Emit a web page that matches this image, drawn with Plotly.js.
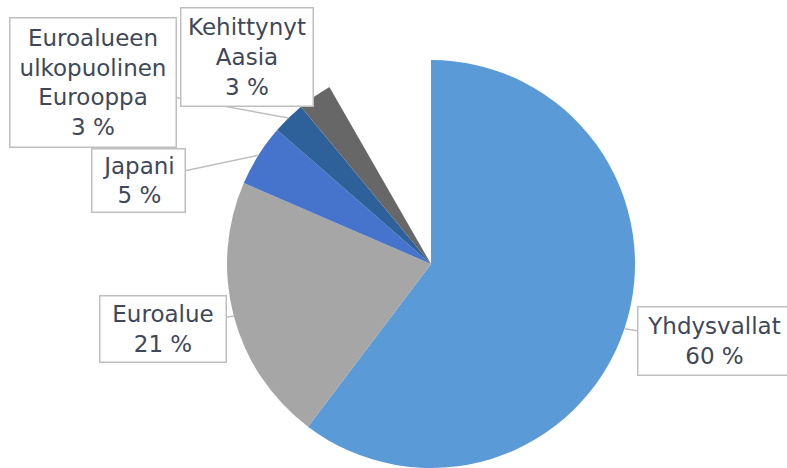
<!DOCTYPE html>
<html>
<head>
<meta charset="utf-8">
<script src="https://cdn.plot.ly/plotly-3.0.1.min.js"></script>
<style>html,body{margin:0;padding:0;background:#fff;}#chart{width:787px;height:468px;}</style>
</head>
<body>
<div id="chart"></div>
<script>
// ---- data ----
var categories = ['Yhdysvallat', 'Euroalue', 'Japani', 'Euroalueen ulkopuolinen Eurooppa', 'Kehittynyt Aasia', 'Muut'];
var shares = [60.3, 21.2, 4.9, 2.6, 2.7, 8.3];
var labelLines = ['Yhdysvallat', 'Euroalue', 'Japani', 'Euroalueen<br>ulkopuolinen<br>Eurooppa', 'Kehittynyt<br>Aasia'];
var pctLabels = ['60 %', '21 %', '5 %', '3 %', '3 %'];

// ---- styling / layout config ----
var W = 787, H = 468;
var sliceColors = ['#5A9AD7', '#A6A6A6', '#4673CB', '#2E6199', '#676767', 'rgba(0,0,0,0)'];
var domX = [227 / W, 635 / W], domY = [0, 408 / H];
// label boxes: centre (px), size (px); anchor: 'mid' or 'start' of slice
var boxes = [
  {cx: 714, cy: 341, w: 154, h: 70, anchor: 'mid'},
  {cx: 163, cy: 329, w: 128, h: 68, anchor: 'mid'},
  {cx: 138.5, cy: 180.5, w: 95, h: 65, anchor: 'mid'},
  {cx: 93, cy: 82.5, w: 168, h: 131, anchor: 'mid'},
  {cx: 247, cy: 57, w: 134, h: 100, anchor: 'start'}
];
var txtColor = '#3E4859', lineColor = '#BFBFBF';

var total = shares.reduce(function (a, b) { return a + b; }, 0);
var pcx = (domX[0] + domX[1]) / 2 * W, pcy = (1 - (domY[0] + domY[1]) / 2) * H;
var R = Math.min((domX[1] - domX[0]) * W, (domY[1] - domY[0]) * H) / 2;

var annotations = [];
var cum = 0;
for (var i = 0; i < shares.length; i++) {
  var start = cum / total, mid = (cum + shares[i] / 2) / total;
  cum += shares[i];
  if (i >= boxes.length) continue;
  var b = boxes[i];
  var frac = b.anchor === 'start' ? start : mid;
  var ang = frac * 2 * Math.PI;
  var tx = pcx + R * Math.sin(ang), ty = pcy - R * Math.cos(ang);
  annotations.push({
    xref: 'paper', yref: 'paper', x: tx / W, y: 1 - ty / H,
    ax: b.cx - tx, ay: b.cy - ty,
    showarrow: true, arrowhead: 0, arrowwidth: 1.5, arrowcolor: lineColor, standoff: 0,
    text: labelLines[i] + '<br>' + pctLabels[i],
    font: {family: 'DejaVu Sans, Arial, sans-serif', size: 23, color: txtColor},
    align: 'center', valign: 'middle',
    bgcolor: '#FFFFFF', bordercolor: lineColor, borderwidth: 1.5, borderpad: 0,
    width: b.w - 3, height: b.h - 3
  });
}

var trace = {
  type: 'pie',
  labels: categories,
  values: shares,
  sort: false,
  direction: 'clockwise',
  rotation: 0,
  textinfo: 'none',
  hoverinfo: 'skip',
  marker: {colors: sliceColors, line: {width: 0}},
  domain: {x: domX, y: domY},
  showlegend: false
};

var layout = {
  width: W, height: H,
  margin: {l: 0, r: 0, t: 0, b: 0},
  paper_bgcolor: '#FFFFFF',
  plot_bgcolor: '#FFFFFF',
  showlegend: false,
  annotations: annotations
};

Plotly.newPlot('chart', [trace], layout, {displayModeBar: false, staticPlot: true});
</script>
</body>
</html>
